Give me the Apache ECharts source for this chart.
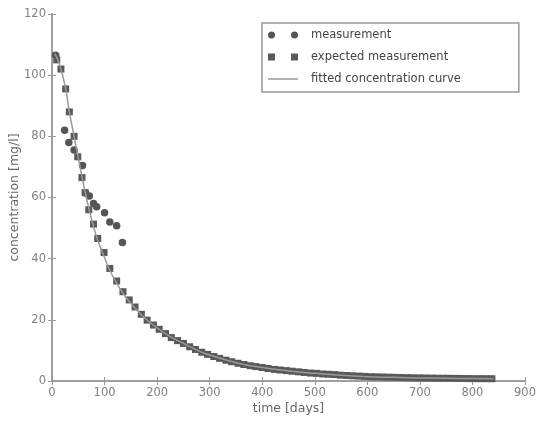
<!DOCTYPE html>
<html>
<head>
<meta charset="utf-8">
<script src="https://cdn.jsdelivr.net/npm/echarts@6/dist/echarts.min.js"></script>
<style>
  html, body { margin: 0; padding: 0; background: #fff; }
  #chart { width: 536px; height: 422px; }
</style>
</head>
<body>
<div id="chart"></div>
<script>
// measured concentrations
let measT = [7, 24, 32, 42, 58, 64, 71, 79, 85, 100, 110, 123, 134]
let measC = [106.5, 82, 78, 75.5, 70.5, 61.5, 60.5, 58, 57, 55, 52, 50.8, 45.3]

// expected measurement (squares)
let expT = [9, 17, 26, 33, 42, 49, 57, 63, 70, 79, 87, 99, 110, 123, 135,
  147, 158, 170, 181, 193, 204, 216, 227, 239, 250, 262, 273, 285, 296, 308,
  319, 331, 342, 354, 365, 377, 388, 400, 411, 423, 434, 446, 457, 469, 480,
  492, 503, 515, 526, 538, 549, 561, 572, 584, 595, 607, 618, 630, 641, 653,
  664, 676, 687, 699, 710, 722, 733, 745, 756, 768, 779, 791, 802, 814, 825, 837]
let expC = [105, 102, 95.5, 88, 80, 73.3, 66.5, 61.6, 56, 51.3, 46.6, 42, 36.8, 32.7, 29.2,
  26.5, 24.2, 21.8, 19.9, 18.3, 16.9, 15.5, 14.2, 13.2, 12.3, 11.2, 10.3, 9.4, 8.7, 8.0,
  7.4, 6.8, 6.3, 5.8, 5.4, 5.0, 4.7, 4.4, 4.1, 3.8, 3.6, 3.4, 3.2, 3.0, 2.8,
  2.6, 2.5, 2.3, 2.2, 2.1, 1.9, 1.8, 1.7, 1.6, 1.5, 1.4, 1.35, 1.3, 1.25, 1.2,
  1.15, 1.1, 1.05, 1.0, 0.98, 0.95, 0.92, 0.9, 0.88, 0.85, 0.83, 0.8, 0.78, 0.77, 0.76, 0.75]

// fitted curve
let curveT = [5, 10, 17, 26, 33, 42, 50, 58, 64, 70, 79, 87, 99, 110, 123, 135, 147, 160, 177,
  200, 225, 250, 282, 300, 350, 400, 450, 500, 550, 600, 650, 700, 750, 800, 840]
let curveC = [107, 105.5, 102, 95.5, 88, 80, 73, 66, 61, 56.5, 50.5, 46, 40.8, 36.2, 32, 28.7, 26, 23.5, 20.5,
  17.4, 14.5, 12.3, 9.6, 8.5, 6.0, 4.4, 3.3, 2.5, 1.9, 1.4, 1.2, 1.0, 0.9, 0.8, 0.75]

let seriesNames = ['measurement', 'expected measurement', 'fitted concentration curve']

function zip(xs, ys) {
  return xs.map((x, i) => [x, ys[i]])
}

let chart = echarts.init(document.getElementById('chart'))

let axisColor = '#999'
let fontFamily = 'DejaVu Sans'

let option = {
  animation: false,
  grid: {
    left: 52,
    right: 11,
    top: 14,
    bottom: 41,
    outerBoundsMode: 'none'
  },
  legend: {
    orient: 'vertical',
    left: 262,
    top: 23,
    padding: [5, 58, 6, 6],
    itemGap: 8,
    itemWidth: 30,
    itemHeight: 7,
    borderColor: '#999',
    borderWidth: 1.5,
    borderRadius: 0,
    textStyle: {
      fontFamily: fontFamily,
      fontSize: 11.5,
      color: '#444',
      lineHeight: 14,
      padding: [0, 0, 0, 8]
    },
    data: [
      { name: seriesNames[0], icon: 'path://M0,3.5a3.5,3.5 0 1,0 7,0a3.5,3.5 0 1,0 -7,0zM23,3.5a3.5,3.5 0 1,0 7,0a3.5,3.5 0 1,0 -7,0z' },
      { name: seriesNames[1], icon: 'path://M0,0h7v7h-7zM23,0h7v7h-7z' },
      { name: seriesNames[2], icon: 'path://M0,0h30v1.5h-30z' }
    ]
  },
  xAxis: [{
    type: 'value',
    min: 0,
    max: 900,
    interval: 100,
    name: 'time [days]',
    nameLocation: 'middle',
    nameGap: 21,
    nameMoveOverlap: false,
    nameTextStyle: { fontFamily: fontFamily, fontSize: 12.5, color: '#666' },
    axisLine: { lineStyle: { color: axisColor, width: 1.5 } },
    axisTick: { inside: true, length: 4, lineStyle: { color: axisColor } },
    axisLabel: { fontFamily: fontFamily, fontSize: 11.5, color: '#808080', margin: 6 },
    splitLine: { show: false }
  }, {
    type: 'value',
    position: 'top',
    min: 0,
    max: 900,
    interval: 100,
    axisLine: { lineStyle: { color: axisColor, width: 1.5 } },
    axisTick: { inside: true, length: 4, lineStyle: { color: axisColor } },
    axisLabel: { show: false },
    splitLine: { show: false }
  }],
  yAxis: [{
    type: 'value',
    min: 0,
    max: 120,
    interval: 20,
    name: 'concentration [mg/l]',
    nameLocation: 'middle',
    nameGap: 31,
    nameMoveOverlap: false,
    nameTextStyle: { fontFamily: fontFamily, fontSize: 12.5, color: '#666' },
    axisLine: { show: true, lineStyle: { color: axisColor, width: 1.5 } },
    axisTick: { show: true, inside: true, length: 4, lineStyle: { color: axisColor } },
    axisLabel: { fontFamily: fontFamily, fontSize: 11.5, color: '#808080', margin: 6 },
    splitLine: { show: false }
  }, {
    type: 'value',
    position: 'right',
    min: 0,
    max: 120,
    interval: 20,
    axisLine: { show: true, lineStyle: { color: axisColor, width: 1.5 } },
    axisTick: { show: true, inside: true, length: 4, lineStyle: { color: axisColor } },
    axisLabel: { show: false },
    splitLine: { show: false }
  }],
  series: [{
    name: seriesNames[0],
    type: 'scatter',
    symbol: 'circle',
    symbolSize: 7.5,
    itemStyle: { color: '#555', opacity: 1 },
    data: zip(measT, measC)
  }, {
    name: seriesNames[1],
    type: 'scatter',
    symbol: 'rect',
    symbolSize: 7,
    itemStyle: { color: '#595959', opacity: 1 },
    data: zip(expT, expC)
  }, {
    name: seriesNames[2],
    type: 'line',
    smooth: true,
    showSymbol: false,
    symbol: 'none',
    lineStyle: { color: '#9a9a9a', width: 1.5 },
    itemStyle: { color: '#9a9a9a' },
    data: zip(curveT, curveC)
  }]
}

chart.setOption(option)
</script>
</body>
</html>
